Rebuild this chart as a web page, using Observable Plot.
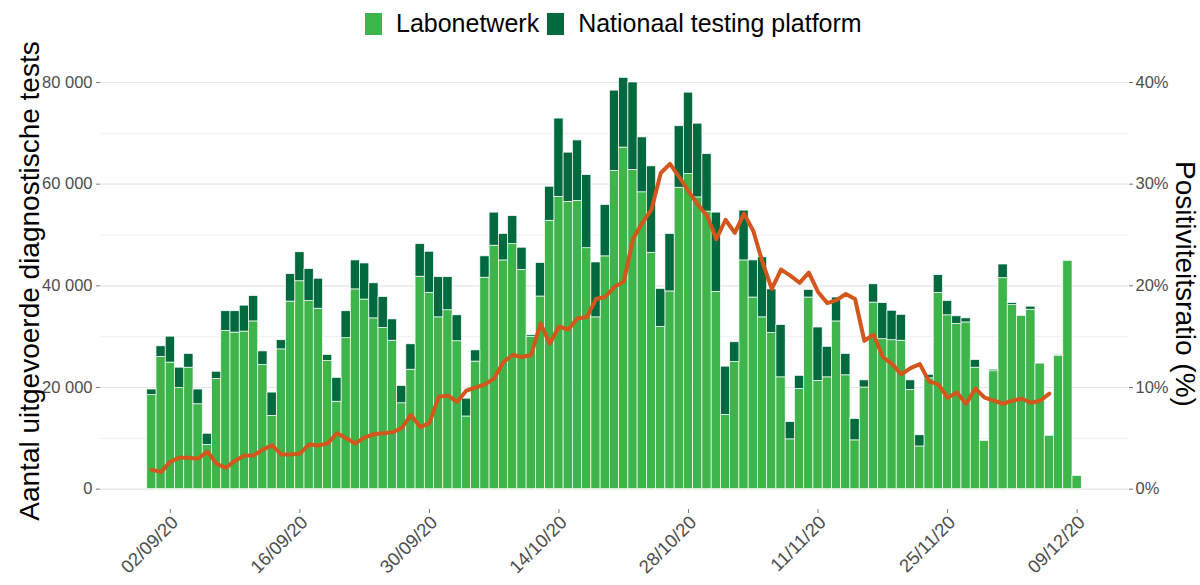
<!DOCTYPE html>
<html>
<head>
<meta charset="utf-8">
<script src="https://cdn.jsdelivr.net/npm/d3@7"></script>
<script src="https://cdn.jsdelivr.net/npm/@observablehq/plot@0.6"></script>
<style>
  html, body { margin: 0; padding: 0; background: #fff; }
  body { width: 1200px; height: 585px; overflow: hidden; font-family: "Liberation Sans", Arial, sans-serif; }
  #legend { position: relative; height: 45px; }
  #legend .items { position: absolute; left: 365px; top: 9px; display: flex; align-items: center; font-size: 25px; color: #000; white-space: nowrap; }
  #legend .sw { display: inline-block; width: 17px; height: 22px; margin-right: 14px; }
  #legend .lab { margin-right: 8px; }
  #chart svg { display: block; }
</style>
</head>
<body>
<div id="legend"><div class="items"></div></div>
<div id="chart"></div>
<script>
// ---------- data ----------
const startDate = "2020-08-31"; // first day (one bar per day)
const seriesNames = ["Labonetwerk", "Nationaal testing platform"];
const seriesColors = ["#3DB54A", "#00693E"];
const lineColor = "#D3561C";

const labonetwerk = [
  18500, 26000, 24900, 19900, 23900, 16700, 8700, 21700, 31100, 30800,
  31000, 33000, 24400, 14400, 27500, 36900, 40900, 37000, 35500, 25200,
  17200, 29700, 39300, 37300, 33600, 31700, 29200, 16900, 23500, 41800,
  38600, 33800, 35200, 29100, 14300, 25100, 41600, 47900, 45000, 48200,
  43100, 30000, 37900, 52800, 57500, 56500, 56700, 47400, 33800, 45800,
  62600, 67200, 62800, 58400, 46500, 31900, 38900, 59300, 62000, 57400,
  54600, 38800, 14600, 25000, 45000, 37700, 33800, 30700, 22000, 9800,
  19700, 37700, 21300, 22000, 33000, 22400, 9600, 20000, 36700, 29500,
  29300, 29200, 19500, 8400, 21800, 38600, 34200, 32500, 32800, 23900,
  9500, 23200, 41500, 36200, 34100, 35300, 24700, 10500, 26200, 44900,
  2600
];
const nationaalTestingPlatform = [
  1100, 2100, 5100, 4000, 2700, 2900, 2200, 1400, 3900, 4200,
  5100, 5000, 2700, 4600, 1800, 5400, 5700, 6300, 5900, 1200,
  4700, 5300, 5700, 7100, 6900, 6100, 4200, 3400, 5000, 6400,
  8100, 7900, 6500, 5100, 3500, 2200, 4200, 6500, 5200, 5500,
  4400, 300, 6600, 6700, 15400, 9700, 11900, 14400, 10800, 10100,
  15800, 13700, 17200, 10800, 17000, 7500, 11300, 12100, 16000, 14500,
  11300, 15600, 9500, 3900, 9800, 7300, 11800, 8600, 10300, 3400,
  2600, 1500, 10500, 6000, 4700, 4200, 4200, 1400, 3600, 7100,
  5800, 5100, 1900, 2200, 700, 3500, 2800, 1500, 800, 1500,
  0, 300, 2700, 400, 0, 600, 0, 0, 200, 100,
  0
];
// positivity ratio (%), from 31/08 to 06/12
const positiviteitsratio = [
  1.9, 1.7, 2.7, 3.1, 3.1, 3.0, 3.7, 2.5, 2.1, 2.8,
  3.3, 3.3, 3.9, 4.3, 3.4, 3.4, 3.5, 4.4, 4.3, 4.5,
  5.5, 5.0, 4.5, 5.1, 5.4, 5.5, 5.6, 6.0, 7.3, 6.1,
  6.5, 9.1, 9.2, 8.6, 9.7, 10.0, 10.3, 10.9, 12.5, 13.2,
  13.0, 13.2, 16.3, 14.3, 16.0, 15.7, 16.8, 16.9, 18.7, 18.9,
  19.9, 20.4, 24.6, 26.2, 27.5, 31.1, 32.0, 30.7, 29.3, 28.0,
  26.9, 24.6, 26.5, 25.2, 27.1, 25.4, 22.3, 19.7, 21.6, 21.0,
  20.3, 21.3, 19.4, 18.3, 18.6, 19.2, 18.7, 14.6, 15.2, 13.0,
  12.3, 11.3, 11.9, 12.3, 10.6, 10.3, 9.0, 9.5, 8.4, 9.9,
  9.0, 8.7, 8.4, 8.7, 8.9, 8.5, 8.7, 9.4
];
const xTickDates = ["2020-09-02", "2020-09-16", "2020-09-30", "2020-10-14", "2020-10-28", "2020-11-11", "2020-11-25", "2020-12-09"];
const yMajorTicks = [0, 20000, 40000, 60000, 80000];
const yMinorTicks = [10000, 30000, 50000, 70000];
const pctTicks = [0, 10, 20, 30, 40];
const leftTitle = "Aantal uitgevoerde diagnostische tests";
const rightTitle = "Positiviteitsratio (%)";

// ---------- build tables ----------
const parse = d3.utcParse("%Y-%m-%d");
const d0 = parse(startDate);
const days = labonetwerk.map((_, i) => d3.utcDay.offset(d0, i));
const bars = days.map((date, i) => ({
  date,
  lab: labonetwerk[i],
  ntp: nationaalTestingPlatform[i]
}));
const line = positiviteitsratio.map((p, i) => ({ date: days[i], pct: p }));
const xTicks = xTickDates.map(parse);
const pctMax = pctTicks[pctTicks.length - 1];
const countMax = yMajorTicks[yMajorTicks.length - 1];
const pctToCount = countMax / pctMax; // 40% aligns with 80 000

const half = d => d3.utcHour.offset(d, -12);
const halfEnd = d => d3.utcHour.offset(d, 12);
const padDays = 5.55;
const xDomain = [
  new Date(+days[0] - padDays * 864e5),
  new Date(+days[days.length - 1] + padDays * 864e5)
];

// ---------- fonts ----------
function hasFont(name) {
  const c = document.createElement("canvas").getContext("2d");
  const s = "80 000 40% Labonetwerk";
  c.font = "20px monospace";
  const a = c.measureText(s).width;
  c.font = `20px "${name}", monospace`;
  const b = c.measureText(s).width;
  return Math.abs(a - b) > 0.5;
}
const narrow = hasFont("Liberation Sans Narrow");
const yTickFamily = narrow ? "Liberation Sans Narrow" : "Liberation Sans";
const yTickFont = narrow ? 19 : 16.5;
const xTickFont = 18.5;

// ---------- legend ----------
const items = document.querySelector("#legend .items");
seriesNames.forEach((name, i) => {
  const sw = document.createElement("span");
  sw.className = "sw";
  sw.style.background = seriesColors[i];
  const tx = document.createElement("span");
  tx.className = i === 0 ? "lab" : "";
  tx.textContent = name;
  items.appendChild(sw);
  items.appendChild(tx);
});

// ---------- chart ----------
const fmtThousands = d => d3.format(",")(d).replace(/,/g, " ");
const fmtDate = d3.utcFormat("%d/%m/%y");
const axisColor = "#4d4d4d";
const tickColor = "#7a7a7a";

const chart = Plot.plot({
  width: 1200,
  height: 540,
  marginLeft: 100,
  marginRight: 72,
  marginTop: 37,
  marginBottom: 76,
  style: { fontFamily: "Liberation Sans, Arial, sans-serif", fontSize: "16px", background: "white", overflow: "visible" },
  x: { type: "utc", domain: xDomain },
  y: { domain: [-4000, countMax] },
  marks: [
    Plot.ruleY(yMinorTicks, { stroke: "#f0f0f0", strokeWidth: 1 }),
    Plot.ruleY(yMajorTicks, { stroke: "#e6e6e6", strokeWidth: 1.2 }),
    Plot.rectY(bars, {
      x1: d => half(d.date), x2: d => halfEnd(d.date),
      y1: 0, y2: "lab",
      fill: seriesColors[0], stroke: "white", strokeWidth: 0.7
    }),
    Plot.rectY(bars.filter(d => d.ntp > 0), {
      x1: d => half(d.date), x2: d => halfEnd(d.date),
      y1: "lab", y2: d => d.lab + d.ntp,
      fill: seriesColors[1], stroke: "white", strokeWidth: 0.7
    }),
    Plot.line(line, {
      x: "date", y: d => d.pct * pctToCount,
      stroke: lineColor, strokeWidth: 4, strokeLinejoin: "round", strokeLinecap: "round"
    }),
    // tick marks (labels drawn separately below)
    Plot.axisX({ ticks: xTicks, tickFormat: () => "", tickSize: 4, stroke: tickColor, label: null }),
    Plot.axisY({ anchor: "left", ticks: yMajorTicks, tickFormat: () => "", tickSize: 4, stroke: tickColor, label: null }),
    Plot.axisY({ anchor: "right", ticks: pctTicks.map(p => p * pctToCount), tickFormat: () => "", tickSize: 4, stroke: tickColor, label: null }),
    // tick labels
    Plot.text(xTicks, {
      x: d => d, frameAnchor: "bottom", rotate: -45, textAnchor: "end",
      dx: 9, dy: 14, text: fmtDate, fontSize: xTickFont, fill: axisColor
    }),
    Plot.text(yMajorTicks, {
      y: d => d, frameAnchor: "left", textAnchor: "end",
      dx: -8, text: fmtThousands, fontSize: yTickFont, fontFamily: yTickFamily, fill: axisColor
    }),
    Plot.text(pctTicks, {
      y: d => d * pctToCount, frameAnchor: "right", textAnchor: "start",
      dx: 7, text: d => `${d}%`, fontSize: yTickFont, fontFamily: yTickFamily, fill: axisColor
    }),
    // axis titles
    Plot.text([leftTitle], {
      frameAnchor: "left", rotate: -90, dx: -70, dy: -15, textAnchor: "middle",
      fontSize: 28, fill: "#000", text: d => d
    }),
    Plot.text([rightTitle], {
      frameAnchor: "right", rotate: 90, dx: 56, dy: -12, textAnchor: "middle",
      fontSize: 28, fill: "#000", text: d => d
    })
  ]
});
document.getElementById("chart").appendChild(chart);
</script>
</body>
</html>
